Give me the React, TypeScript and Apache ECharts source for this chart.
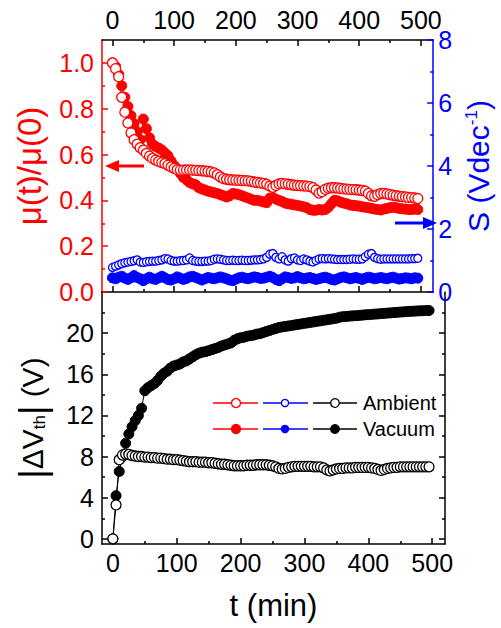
import React, { useEffect, useRef } from "react";
import * as echarts from "echarts";

// time axis (min) shared by all series
const timeMin = [
  0, 5, 10, 15, 20, 25, 30, 35, 40, 45, 50, 55, 60, 65, 70, 75, 80, 85, 90, 95,
  100, 105, 110, 115, 120, 125, 130, 135, 140, 145, 150, 155, 160, 165, 170, 175, 180, 185, 190, 195,
  200, 205, 210, 215, 220, 225, 230, 235, 240, 245, 250, 255, 260, 265, 270, 275, 280, 285, 290, 295,
  300, 305, 310, 315, 320, 325, 330, 335, 340, 345, 350, 355, 360, 365, 370, 375, 380, 385, 390, 395,
  400, 405, 410, 415, 420, 425, 430, 435, 440, 445, 450, 455, 460, 465, 470, 475, 480, 485, 490, 495,
];

// mu(t)/mu(0), ambient (open red)
const muAmbient = [
  1.0, 0.975, 0.94, 0.85, 0.785, 0.738, 0.695, 0.665, 0.645, 0.63, 0.619, 0.605, 0.593, 0.583, 0.576, 0.57, 0.565, 0.56, 0.553, 0.546,
  0.54, 0.534, 0.532, 0.532, 0.533, 0.533, 0.532, 0.531, 0.53, 0.529, 0.528, 0.526, 0.524, 0.52, 0.512, 0.502, 0.495, 0.492, 0.49, 0.489,
  0.488, 0.488, 0.487, 0.486, 0.485, 0.483, 0.48, 0.478, 0.476, 0.474, 0.47, 0.462, 0.457, 0.465, 0.472, 0.474, 0.472, 0.47, 0.468, 0.466,
  0.465, 0.464, 0.463, 0.462, 0.46, 0.456, 0.445, 0.432, 0.438, 0.448, 0.453, 0.455, 0.455, 0.454, 0.452, 0.45, 0.449, 0.448, 0.447, 0.446,
  0.445, 0.443, 0.44, 0.43, 0.42, 0.418, 0.425, 0.43, 0.43, 0.428, 0.425, 0.422, 0.42, 0.418, 0.416, 0.415, 0.413, 0.412, 0.41, 0.408,
];

// mu(t)/mu(0), vacuum (filled red)
const muVacuum = [
  1.0, 0.985, 0.95, 0.9, 0.85, 0.81, 0.77, 0.735, 0.7, 0.665, 0.755, 0.713, 0.673, 0.645, 0.635, 0.628, 0.62, 0.607, 0.595, 0.572,
  0.552, 0.537, 0.518, 0.5, 0.49, 0.478, 0.472, 0.468, 0.455, 0.45, 0.445, 0.44, 0.437, 0.433, 0.43, 0.425, 0.42, 0.415, 0.42, 0.43,
  0.428, 0.425, 0.42, 0.415, 0.41, 0.405, 0.4, 0.4, 0.397, 0.393, 0.39, 0.41, 0.412, 0.405, 0.4, 0.395, 0.388, 0.385, 0.383, 0.38,
  0.378, 0.375, 0.372, 0.368, 0.36, 0.357, 0.357, 0.36, 0.358, 0.36, 0.37, 0.385, 0.4, 0.398, 0.392, 0.388, 0.385, 0.38, 0.378, 0.377,
  0.375, 0.372, 0.37, 0.368, 0.365, 0.362, 0.36, 0.358, 0.362, 0.365, 0.368, 0.37, 0.368, 0.365, 0.363, 0.362, 0.36, 0.36, 0.362, 0.36,
];

// S (V/dec), ambient (open blue)
const sAmbient = [
  0.78, 0.82, 0.86, 0.9, 0.93, 0.95, 0.97, 0.99, 1.02, 0.95, 0.94, 0.96, 0.97, 0.98, 0.98, 1.0, 1.02, 1.06, 1.05, 1.0,
  0.98, 0.98, 0.99, 1.0, 1.02, 1.08, 1.0, 0.98, 0.97, 0.97, 0.98, 0.98, 1.0, 1.04, 1.05, 1.04, 1.02, 1.0, 1.0, 1.01,
  1.0, 1.0, 1.01, 1.0, 1.0, 1.01, 1.02, 1.02, 1.03, 1.05, 1.1, 1.2, 1.22, 1.1, 1.05, 1.12, 1.02, 0.98, 1.06, 1.08,
  1.02, 1.0, 1.05, 1.02, 0.98, 0.95, 1.0, 1.05, 1.06, 1.05, 1.06, 1.05, 1.04, 1.03, 1.03, 1.03, 1.03, 1.04, 1.05, 1.04,
  1.04, 1.05, 1.12, 1.2, 1.22, 1.1, 1.06, 1.04, 1.05, 1.05, 1.05, 1.05, 1.05, 1.05, 1.05, 1.05, 1.05, 1.06, 1.06, 1.07,
];

// S (V/dec), vacuum (filled blue)
const sVacuum = [
  0.45, 0.42, 0.47, 0.5, 0.44, 0.4, 0.45, 0.52, 0.46, 0.42, 0.36, 0.42, 0.47, 0.42, 0.4, 0.45, 0.5, 0.45, 0.4, 0.38,
  0.42, 0.48, 0.44, 0.4, 0.43, 0.48, 0.5, 0.46, 0.42, 0.38, 0.42, 0.46, 0.44, 0.42, 0.45, 0.48, 0.45, 0.42, 0.38, 0.36,
  0.41, 0.45, 0.47, 0.44, 0.42, 0.45, 0.48, 0.46, 0.43, 0.44, 0.47, 0.5, 0.46, 0.4, 0.36, 0.42, 0.48, 0.46, 0.43, 0.45,
  0.49, 0.45, 0.42, 0.44, 0.46, 0.43, 0.4, 0.42, 0.45, 0.47, 0.44, 0.4, 0.38, 0.42, 0.46, 0.48, 0.45, 0.42, 0.44, 0.46,
  0.43, 0.4, 0.44, 0.47, 0.45, 0.42, 0.44, 0.46, 0.44, 0.42, 0.45, 0.47, 0.44, 0.41, 0.43, 0.45, 0.44, 0.42, 0.45, 0.44,
];

// |dVth| (V), ambient (open black)
const dvAmbient = [
  0, 3.3, 7.7, 8.15, 8.25, 8.2, 8.1, 8.05, 8.0, 8.0, 7.95, 7.95, 7.9, 7.9, 7.85, 7.85, 7.8, 7.75, 7.75, 7.7,
  7.7, 7.65, 7.6, 7.55, 7.5, 7.5, 7.5, 7.45, 7.45, 7.45, 7.4, 7.4, 7.35, 7.3, 7.25, 7.25, 7.2, 7.15, 7.1, 7.1,
  7.1, 7.1, 7.15, 7.15, 7.15, 7.2, 7.2, 7.2, 7.2, 7.15, 7.1, 7.0, 6.85, 6.8, 6.85, 6.95, 7.0, 7.05, 7.05, 7.05,
  7.05, 7.05, 7.05, 7.0, 7.0, 7.0, 6.9, 6.7, 6.6, 6.7, 6.8, 6.85, 6.85, 6.9, 6.9, 6.9, 6.95, 6.95, 6.95, 6.95,
  6.95, 6.9, 6.85, 6.75, 6.65, 6.75, 6.85, 6.9, 6.95, 6.95, 7.0, 7.0, 7.0, 7.0, 7.0, 7.0, 7.0, 7.0, 7.0, 7.0,
];

// |dVth| (V), vacuum (filled black)
const dvVacuum = [
  0, 4.2, 6.55, 8.0, 9.3, 10.2, 10.9, 11.5, 12.0, 12.7, 14.4, 14.7, 14.9, 15.1, 15.4, 15.8, 16.1, 16.3, 16.6, 16.8,
  16.9, 17.0, 17.2, 17.3, 17.5, 17.7, 17.9, 18.05, 18.15, 18.2, 18.3, 18.4, 18.5, 18.6, 18.75, 18.85, 18.95, 19.05, 19.3, 19.45,
  19.55, 19.6, 19.7, 19.75, 19.8, 19.9, 19.95, 20.05, 20.15, 20.25, 20.35, 20.45, 20.55, 20.6, 20.65, 20.7, 20.75, 20.8, 20.85, 20.9,
  20.95, 21.0, 21.05, 21.1, 21.15, 21.2, 21.25, 21.3, 21.35, 21.4, 21.45, 21.55, 21.6, 21.62, 21.65, 21.68, 21.7, 21.72, 21.75, 21.78,
  21.8, 21.82, 21.85, 21.87, 21.9, 21.92, 21.95, 21.97, 22.0, 22.02, 22.05, 22.07, 22.1, 22.12, 22.13, 22.15, 22.17, 22.18, 22.2, 22.2,
];

// tick values
const xMajor = [0, 100, 200, 300, 400, 500];
const xMinor = [50, 150, 250, 350, 450];
const muMajor = [0, 0.2, 0.4, 0.6, 0.8, 1.0];
const muMinor = [0.1, 0.3, 0.5, 0.7, 0.9];
const sMajor = [0, 2, 4, 6, 8];
const sMinor = [1, 3, 5, 7];
const dvMajor = [0, 4, 8, 12, 16, 20];
const dvMinor = [2, 6, 10, 14, 18, 22];

const RED = "#ff0000";
const BLUE = "#0000ff";
const BLACK = "#000000";
const FONT = "Liberation Sans, Arial, sans-serif";

const zip = (vals: number[]) => timeMin.map((t, i) => [t, vals[i]]);

export default function App() {
  const ref = useRef<HTMLDivElement>(null);
  useEffect(() => {
    if (!ref.current) return;
    const chart = echarts.init(ref.current, undefined, { renderer: "svg" });

    const X_MIN = -17;
    const X_MAX = 520;

    const xAx = (grid: number, pos: string, ticks: number[], len: number, line: boolean, labels: boolean, extra: any = {}) => ({
      type: "value",
      gridIndex: grid,
      position: pos,
      min: X_MIN,
      max: X_MAX,
      splitLine: { show: false },
      axisLine: { show: line, onZero: false, lineStyle: { color: BLACK, width: 1.5 } },
      axisTick: { show: true, inside: true, length: len, customValues: ticks, lineStyle: { color: BLACK, width: 1.5 } },
      axisLabel: labels
        ? { show: true, customValues: ticks, color: BLACK, fontSize: 25, fontFamily: FONT, margin: pos === "top" ? 8 : 6 }
        : { show: false },
      ...extra,
    });

    const yAx = (grid: number, pos: string, min: number, max: number, ticks: number[], len: number, color: string, line: boolean, labels: boolean, fmt?: (v: number) => string, extra: any = {}) => ({
      type: "value",
      gridIndex: grid,
      position: pos,
      min,
      max,
      splitLine: { show: false },
      axisLine: { show: line, onZero: false, lineStyle: { color, width: 1.5 } },
      axisTick: { show: true, inside: true, length: len, customValues: ticks, lineStyle: { color, width: 1.5 } },
      axisLabel: labels
        ? { show: true, customValues: ticks, color, fontSize: 25, fontFamily: FONT, margin: pos === "left" ? 8 : 5, formatter: fmt }
        : { show: false },
      ...extra,
    });

    const lineSeries = (name: string, data: number[][], xi: number, yi: number, color: string, filled: boolean, size: number, z: number) => ({
      type: "line",
      name,
      xAxisIndex: xi,
      yAxisIndex: yi,
      data,
      symbol: "circle",
      symbolSize: size,
      showSymbol: true,
      z,
      lineStyle: { color, width: 1 },
      itemStyle: filled
        ? { color, borderColor: color, borderWidth: 1 }
        : { color: "#ffffff", borderColor: color, borderWidth: 1.3 },
    });

    const legendRow = (y: number, filled: boolean, text: string) => {
      const items: any[] = [];
      const defs = [
        { x1: 213, x2: 258, cx: 236, r: 4.5, c: RED },
        { x1: 263, x2: 308, cx: 285, r: 3.6, c: BLUE },
        { x1: 313, x2: 357, cx: 335, r: 4.3, c: BLACK },
      ];
      defs.forEach((d) => {
        items.push({ type: "line", shape: { x1: d.x1, y1: y, x2: d.x2, y2: y }, style: { stroke: d.c, lineWidth: 1.5 }, z: 100 });
        items.push({ type: "circle", shape: { cx: d.cx, cy: y, r: d.r }, style: { fill: filled ? d.c : "#fff", stroke: d.c, lineWidth: 1.3 }, z: 101 });
      });
      items.push({
        type: "text",
        x: 363,
        y,
        style: { text, fill: BLACK, fontSize: 20, fontFamily: FONT, textVerticalAlign: "middle", textAlign: "left" },
        z: 101,
      });
      return items;
    };

    chart.setOption({
      animation: false,
      backgroundColor: "#ffffff",
      textStyle: { fontFamily: FONT },
      grid: [
        { left: 102, right: 56, top: 40, height: 252 },
        { left: 102, right: 56, top: 292, height: 252 },
      ],
      xAxis: [
        xAx(0, "top", xMajor, 6, true, true),
        xAx(0, "top", xMinor, 3, false, false),
        xAx(0, "bottom", xMajor, 6, true, false),
        xAx(0, "bottom", xMinor, 3, false, false),
        xAx(1, "bottom", xMajor, 6, true, true, {
          name: "t (min)",
          nameLocation: "middle",
          nameGap: 46,
          nameTextStyle: { fontSize: 31, color: BLACK, fontFamily: FONT },
        }),
        xAx(1, "bottom", xMinor, 3, false, false),
      ],
      yAxis: [
        yAx(0, "left", 0, 1.1, muMajor, 6, RED, true, true, (v: number) => v.toFixed(1), {
          name: "μ(t)/μ(0)",
          nameLocation: "middle",
          nameGap: 56,
          nameRotate: 90,
          nameTextStyle: { fontSize: 33, color: RED, fontFamily: FONT },
        }),
        yAx(0, "left", 0, 1.1, muMinor, 3, RED, false, false),
        yAx(0, "right", 0, 8, sMajor, 6, BLUE, true, true, (v: number) => String(v), {
          name: "{a|S (Vdec}{sup|-1}{a|)}",
          nameLocation: "middle",
          nameGap: 26,
          nameRotate: 90,
          nameTextStyle: {
            color: BLUE,
            fontFamily: FONT,
            fontSize: 30,
            rich: {
              a: { fontSize: 30, color: BLUE, fontFamily: FONT },
              sup: { fontSize: 17, color: BLUE, fontFamily: FONT, padding: [0, 0, 13, 0] },
            },
          },
        }),
        yAx(0, "right", 0, 8, sMinor, 3, BLUE, false, false),
        yAx(1, "left", -0.5, 24, dvMajor, 6, BLACK, true, true, (v: number) => String(v), {
          name: "{b||}{a|ΔV}{s|th}{b||}{a| (V)}",
          nameLocation: "middle",
          nameGap: 52,
          nameRotate: 90,
          nameTextStyle: {
            color: BLACK,
            fontFamily: FONT,
            fontSize: 30,
            rich: {
              a: { fontSize: 30, color: BLACK, fontFamily: FONT },
              b: { fontSize: 36, color: BLACK, fontFamily: FONT },
              s: { fontSize: 17, color: BLACK, fontFamily: FONT, padding: [14, 0, 0, 0] },
            },
          },
        }),
        yAx(1, "left", -0.5, 24, dvMinor, 3, BLACK, false, false),
        yAx(1, "right", -0.5, 24, dvMajor, 6, BLACK, true, false),
        yAx(1, "right", -0.5, 24, dvMinor, 3, BLACK, false, false),
      ],
      series: [
        lineSeries("S vacuum", zip(sVacuum), 0, 2, BLUE, true, 10, 2),
        lineSeries("S ambient", zip(sAmbient), 0, 2, BLUE, false, 8, 3),
        lineSeries("mu vacuum", zip(muVacuum), 0, 0, RED, true, 10, 4),
        lineSeries("mu ambient", zip(muAmbient), 0, 0, RED, false, 10, 5),
        lineSeries("dVth vacuum", zip(dvVacuum), 4, 4, BLACK, true, 10, 4),
        lineSeries("dVth ambient", zip(dvAmbient), 4, 4, BLACK, false, 10, 5),
      ],
      graphic: [
        // red arrow (points to left axis)
        { type: "line", shape: { x1: 144, y1: 166, x2: 114, y2: 166 }, style: { stroke: RED, lineWidth: 3 }, z: 100 },
        { type: "polygon", shape: { points: [[105, 166], [119, 160], [119, 172]] }, style: { fill: RED }, z: 100 },
        // blue arrow (points to right axis)
        { type: "line", shape: { x1: 395, y1: 223, x2: 428, y2: 223 }, style: { stroke: BLUE, lineWidth: 3 }, z: 100 },
        { type: "polygon", shape: { points: [[437, 223], [423, 217], [423, 229]] }, style: { fill: BLUE }, z: 100 },
        ...legendRow(403, false, "Ambient"),
        ...legendRow(429, true, "Vacuum"),
      ],
    });
    return () => chart.dispose();
  }, []);
  return <div ref={ref} style={{ position: "fixed", left: 0, top: 0, width: 501, height: 628 }} />;
}
